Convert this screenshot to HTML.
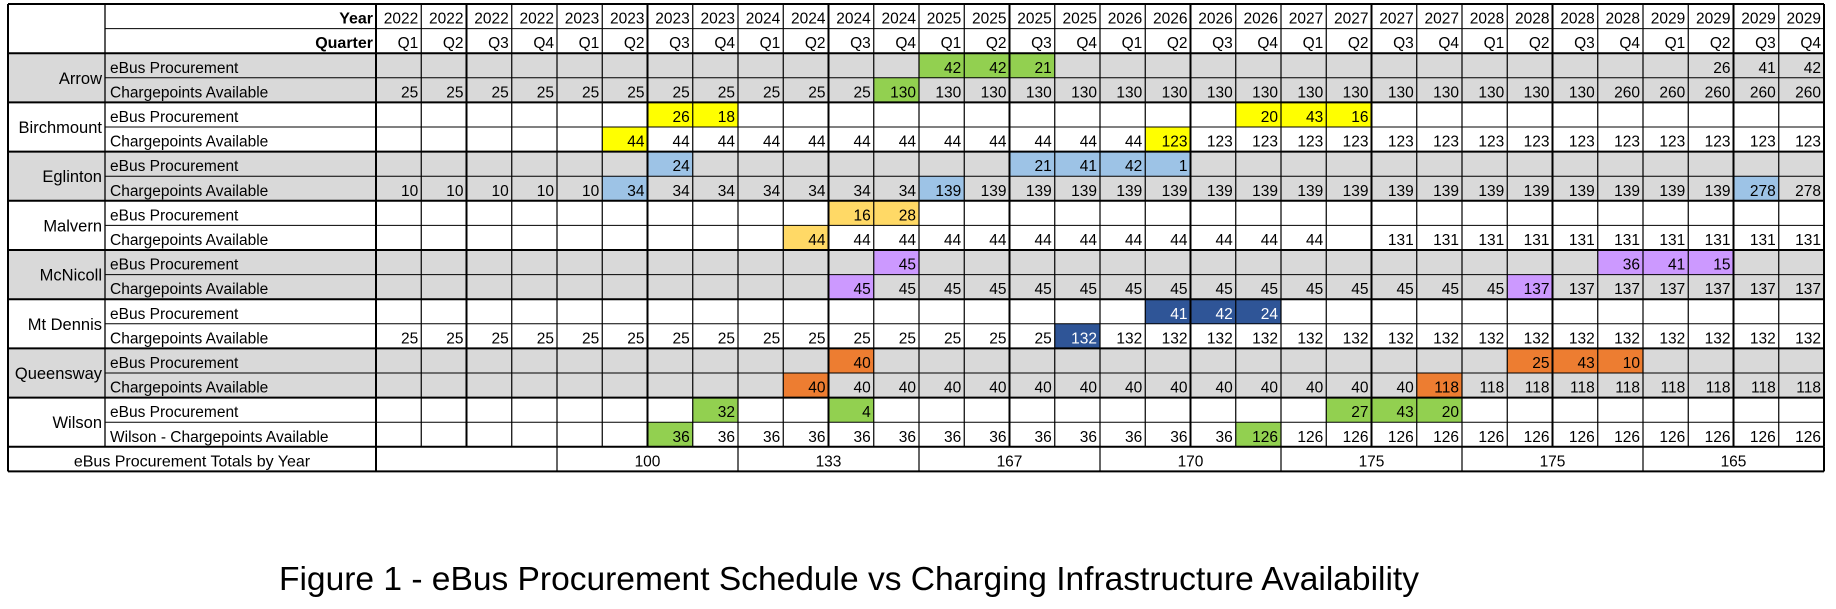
<!DOCTYPE html>
<html><head><meta charset="utf-8"><style>
html,body{margin:0;padding:0;background:#fff;}
svg{display:block;font-family:"Liberation Sans",Arial,sans-serif;}
</style></head><body>
<svg id="chart" width="1836" height="609" viewBox="0 0 1836 609" xmlns="http://www.w3.org/2000/svg">
<g id="fills"></g><g id="lines"></g><g id="texts"></g>
<text x="279" y="590" font-size="33" textLength="1140" lengthAdjust="spacingAndGlyphs" fill="#000">Figure 1 - eBus Procurement Schedule vs Charging Infrastructure Availability</text>
</svg>
<script>
const years = ["2022","2023","2024","2025","2026","2027","2028","2029"];
const quarters = ["Q1","Q2","Q3","Q4"];
const stations = ["Arrow","Birchmount","Eglinton","Malvern","McNicoll","Mt Dennis","Queensway","Wilson"];
const rowLabels = ["eBus Procurement","Chargepoints Available"];
const totals = [null,100,133,167,170,175,175,165];
const arrowBus = [[12,42],[13,42],[14,21],[29,26],[30,41],[31,42]];
const arrowCp = [[0,25],[1,25],[2,25],[3,25],[4,25],[5,25],[6,25],[7,25],[8,25],[9,25],[10,25],[11,130],[12,130],[13,130],[14,130],[15,130],[16,130],[17,130],[18,130],[19,130],[20,130],[21,130],[22,130],[23,130],[24,130],[25,130],[26,130],[27,260],[28,260],[29,260],[30,260],[31,260]];
const birchBus = [[6,26],[7,18],[19,20],[20,43],[21,16]];
const birchCp = [[5,44],[6,44],[7,44],[8,44],[9,44],[10,44],[11,44],[12,44],[13,44],[14,44],[15,44],[16,44],[17,123],[18,123],[19,123],[20,123],[21,123],[22,123],[23,123],[24,123],[25,123],[26,123],[27,123],[28,123],[29,123],[30,123],[31,123]];
const eglBus = [[6,24],[14,21],[15,41],[16,42],[17,1]];
const eglCp = [[0,10],[1,10],[2,10],[3,10],[4,10],[5,34],[6,34],[7,34],[8,34],[9,34],[10,34],[11,34],[12,139],[13,139],[14,139],[15,139],[16,139],[17,139],[18,139],[19,139],[20,139],[21,139],[22,139],[23,139],[24,139],[25,139],[26,139],[27,139],[28,139],[29,139],[30,278],[31,278]];
const malBus = [[10,16],[11,28]];
const malCp = [[9,44],[10,44],[11,44],[12,44],[13,44],[14,44],[15,44],[16,44],[17,44],[18,44],[19,44],[20,44],[22,131],[23,131],[24,131],[25,131],[26,131],[27,131],[28,131],[29,131],[30,131],[31,131]];
const mcnBus = [[11,45],[27,36],[28,41],[29,15]];
const mcnCp = [[10,45],[11,45],[12,45],[13,45],[14,45],[15,45],[16,45],[17,45],[18,45],[19,45],[20,45],[21,45],[22,45],[23,45],[24,45],[25,137],[26,137],[27,137],[28,137],[29,137],[30,137],[31,137]];
const mtdBus = [[17,41],[18,42],[19,24]];
const mtdCp = [[0,25],[1,25],[2,25],[3,25],[4,25],[5,25],[6,25],[7,25],[8,25],[9,25],[10,25],[11,25],[12,25],[13,25],[14,25],[15,132],[16,132],[17,132],[18,132],[19,132],[20,132],[21,132],[22,132],[23,132],[24,132],[25,132],[26,132],[27,132],[28,132],[29,132],[30,132],[31,132]];
const queBus = [[10,40],[25,25],[26,43],[27,10]];
const queCp = [[9,40],[10,40],[11,40],[12,40],[13,40],[14,40],[15,40],[16,40],[17,40],[18,40],[19,40],[20,40],[21,40],[22,40],[23,118],[24,118],[25,118],[26,118],[27,118],[28,118],[29,118],[30,118],[31,118]];
const wilBus = [[7,32],[10,4],[21,27],[22,43],[23,20]];
const wilCp = [[6,36],[7,36],[8,36],[9,36],[10,36],[11,36],[12,36],[13,36],[14,36],[15,36],[16,36],[17,36],[18,36],[19,126],[20,126],[21,126],[22,126],[23,126],[24,126],[25,126],[26,126],[27,126],[28,126],[29,126],[30,126],[31,126]];
const hlGreen = [[0,12],[0,13],[0,14],[1,11],[14,7],[14,10],[14,21],[14,22],[14,23],[15,6],[15,19]];
const hlYellow = [[2,6],[2,7],[2,19],[2,20],[2,21],[3,5],[3,17]];
const hlBlue = [[4,6],[4,14],[4,15],[4,16],[4,17],[5,5],[5,12],[5,30]];
const hlPeach = [[6,10],[6,11],[7,9]];
const hlPurple = [[8,11],[8,27],[8,28],[8,29],[9,10],[9,25]];
const hlNavy = [[10,17],[10,18],[10,19],[11,15]];
const hlOrange = [[12,10],[12,25],[12,26],[12,27],[13,9],[13,23]];

const rows = [arrowBus,arrowCp,birchBus,birchCp,eglBus,eglCp,malBus,malCp,mcnBus,mcnCp,mtdBus,mtdCp,queBus,queCp,wilBus,wilCp];
const NS="http://www.w3.org/2000/svg";
const X0=8, XS=105, XL=376, CW=45.25, Y0=4, RH=24.6;
const NC=32, XR=XL+NC*CW;
const fills=document.getElementById('fills'), lines=document.getElementById('lines'), texts=document.getElementById('texts');
function cx(c){return XL+c*CW;}
function ry(r){return Y0+r*RH;}
function rect(g,x,y,w,h,f){const e=document.createElementNS(NS,'rect');e.setAttribute('x',x);e.setAttribute('y',y);e.setAttribute('width',w);e.setAttribute('height',h);e.setAttribute('fill',f);g.appendChild(e);return e;}
function line(x1,y1,x2,y2,w){const e=document.createElementNS(NS,'line');e.setAttribute('x1',x1);e.setAttribute('y1',y1);e.setAttribute('x2',x2);e.setAttribute('y2',y2);e.setAttribute('stroke','#000');e.setAttribute('stroke-width',w);lines.appendChild(e);return e;}
function txt(x,y,s,anchor,size,weight,color){const e=document.createElementNS(NS,'text');e.setAttribute('x',x);e.setAttribute('y',y);e.setAttribute('text-anchor',anchor);e.setAttribute('font-size',size);if(weight)e.setAttribute('font-weight',weight);e.setAttribute('fill',color||'#000');e.textContent=s;texts.appendChild(e);return e;}

for(let g=0;g<8;g++){
  if(g%2===0){
    const e=rect(fills,X0,ry(2+2*g),XR-X0,2*RH,'#d9d9d9');
    
    
  }
}
const hl=[[hlGreen,'#92d050'],[hlYellow,'#ffff00'],[hlBlue,'#9dc3e6'],[hlPeach,'#ffd966'],[hlPurple,'#cc99ff'],[hlNavy,'#2f5597'],[hlOrange,'#ed7d31']];
const navySet=new Set(hlNavy.map(a=>a[0]+'_'+a[1]));
hl.forEach(([arr,col])=>arr.forEach(([r,c])=>{
  const e=rect(fills,cx(c),ry(2+r),CW,RH,col);
  
  
}));

const FS=15.5;
txt(XL-3,ry(1)-5,'Year','end',16,'bold');
txt(XL-3,ry(2)-5,'Quarter','end',16,'bold');
for(let c=0;c<NC;c++){
  const t1=txt(cx(c+1)-3,ry(1)-5,years[Math.floor(c/4)],'end',FS);
  
  
  const t2=txt(cx(c+1)-3,ry(2)-5,quarters[c%4],'end',FS);
  
  
}
for(let g=0;g<8;g++){
  const s=txt(XS-3,ry(3+2*g)+6,stations[g],'end',16.5);
  
  
  for(let k=0;k<2;k++){
    const lab=(g===7&&k===1)?'Wilson - Chargepoints Available':rowLabels[k];
    const t=txt(XS+5,ry(3+2*g+k)-5,lab,'start',15.5);
    
    
  }
}
rows.forEach((arr,r)=>arr.forEach(([c,v])=>{
  const col=navySet.has(r+'_'+c)?'#fff':'#000';
  const t=txt(cx(c+1)-3,ry(3+r)-5,String(v),'end',FS,null,col);
  
  
}));
const tl=txt((X0+XL)/2,ry(19)-5,'eBus Procurement Totals by Year','middle',16);


totals.forEach((v,i)=>{
  if(v===null)return;
  const t=txt(cx(i*4+2),ry(19)-5,String(v),'middle',FS);
  
  
});

for(let r=0;r<=19;r++){
  let w=1;
  if(r===0||r===2||r===18||r===19||(r>2&&r<18&&r%2===0))w=2;
  let x1=X0;
  if(r>=3&&r<18&&r%2===1)x1=XS;
  if(r===1)x1=XS;
  line(x1,ry(r),XR,ry(r),w);
}
line(X0,ry(0),X0,ry(19),2);
line(XS,ry(0),XS,ry(18),1.3);
line(XL,ry(0),XL,ry(19),2);
for(let c=1;c<=NC;c++){
  const w=(c===NC)?2:((c%4===2)?2:1.2);
  line(cx(c),ry(0),cx(c),ry(18),w);
  if(c%4===0)line(cx(c),ry(18),cx(c),ry(19),c===NC?2:1.2);
}
</script>
</body></html>
